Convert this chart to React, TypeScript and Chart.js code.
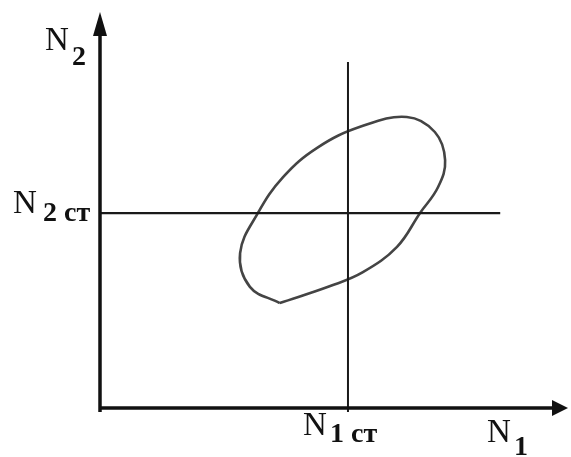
import React, { useEffect, useRef } from "react";
import { Chart, registerables } from "chart.js";

Chart.register(...registerables);

// Axis ranges (arbitrary units)
const X_MAX = 100;
const Y_MAX = 100;
// Stationary values
const N1_ST = 53.1;
const N2_ST = 49.2;
// Extents of the stationary lines
const V_LINE_Y = [-1, 87.4];
const H_LINE_X = [0, 85.7];
// Phase trajectory (closed curve), starting at its lower corner
const ELLIPSE_X = [38.5, 32.1, 30.0, 33.8, 39.2, 46.5, 55.7, 65.7, 71.7, 73.9, 72.4, 68.5, 63.6, 56.3, 49.3, 38.5];
const ELLIPSE_Y = [26.5, 30.6, 39.1, 49.2, 58.3, 65.7, 71.0, 73.5, 69.7, 62.6, 55.8, 49.2, 40.7, 34.3, 30.8, 26.5];

const SERIF = "'Liberation Serif', 'Times New Roman', Times, serif";

const labelPlugin = {
  id: "axisDecor",
  afterDatasetsDraw(chart: any) {
    const ctx = chart.ctx;
    const xs = chart.scales.x;
    const ys = chart.scales.y;
    const x0 = xs.getPixelForValue(0);
    const y0 = ys.getPixelForValue(0);
    const xEnd = xs.getPixelForValue(X_MAX);
    const yEnd = ys.getPixelForValue(Y_MAX);
    ctx.save();
    ctx.fillStyle = "#111";
    // y arrow
    ctx.beginPath();
    ctx.moveTo(x0, yEnd);
    ctx.lineTo(x0 - 7, yEnd + 24);
    ctx.lineTo(x0 + 7, yEnd + 24);
    ctx.closePath();
    ctx.fill();
    // x arrow
    ctx.beginPath();
    ctx.moveTo(xEnd + 1, y0);
    ctx.lineTo(xEnd - 15, y0 - 8);
    ctx.lineTo(xEnd - 15, y0 + 8);
    ctx.closePath();
    ctx.fill();

    const mainFont = `33px ${SERIF}`;
    const subFont = `bold 28px ${SERIF}`;
    const draw = (x: number, y: number, main: string, sub: string, subX: number, subY: number) => {
      ctx.font = mainFont;
      ctx.textAlign = "left";
      ctx.textBaseline = "alphabetic";
      ctx.fillText(main, x, y);
      ctx.font = subFont;
      ctx.fillText(sub, subX, subY);
    };
    const n1 = xs.getPixelForValue(N1_ST);
    const n2 = ys.getPixelForValue(N2_ST);
    draw(x0 - 55, yEnd + 38, "N", "2", x0 - 28, yEnd + 53);
    draw(13, n2, "N", "2 ст", 43, n2 + 8);
    draw(n1 - 45, y0 + 27, "N", "1 ст", n1 - 18, y0 + 34);
    draw(xEnd - 80, y0 + 34, "N", "1", xEnd - 53, y0 + 47);
    ctx.restore();
  },
};

export default function App() {
  const ref = useRef<HTMLCanvasElement | null>(null);
  useEffect(() => {
    document.body.style.margin = "0";
    if (!ref.current) return;
    const ellipse = ELLIPSE_X.map((x, i) => ({ x, y: ELLIPSE_Y[i] }));
    const chart = new Chart(ref.current, {
      type: "scatter",
      data: {
        datasets: [
          {
            data: [{ x: 0, y: 0 }, { x: X_MAX - 2, y: 0 }],
            showLine: true,
            borderColor: "#111",
            borderWidth: 3.5,
            pointRadius: 0,
            clip: false,
          } as any,
          {
            data: [{ x: 0, y: -1 }, { x: 0, y: Y_MAX - 3 }],
            showLine: true,
            borderColor: "#111",
            borderWidth: 3.5,
            pointRadius: 0,
            clip: false,
          },
          {
            data: [{ x: H_LINE_X[0], y: N2_ST }, { x: H_LINE_X[1], y: N2_ST }],
            showLine: true,
            borderColor: "#1a1a1a",
            borderWidth: 2.2,
            pointRadius: 0,
            clip: false,
          },
          {
            data: [{ x: N1_ST, y: V_LINE_Y[0] }, { x: N1_ST, y: V_LINE_Y[1] }],
            showLine: true,
            borderColor: "#1a1a1a",
            borderWidth: 2,
            pointRadius: 0,
            clip: false,
          },
          {
            data: ellipse,
            showLine: true,
            borderColor: "#444",
            borderWidth: 2.6,
            pointRadius: 0,
            tension: 0.4,
            clip: false,
          },
        ],
      },
      options: {
        animation: false,
        responsive: true,
        maintainAspectRatio: false,
        layout: { padding: { left: 100, right: 4, top: 12, bottom: 49 } },
        plugins: { legend: { display: false }, tooltip: { enabled: false } },
        scales: {
          x: { type: "linear", min: 0, max: X_MAX, display: false },
          y: { type: "linear", min: 0, max: Y_MAX, display: false },
        },
      },
      plugins: [labelPlugin],
    });
    return () => chart.destroy();
  }, []);
  return (
    <div style={{ position: "fixed", left: 0, top: 0, width: 571, height: 457, background: "#fff" }}>
      <canvas ref={ref} />
    </div>
  );
}
